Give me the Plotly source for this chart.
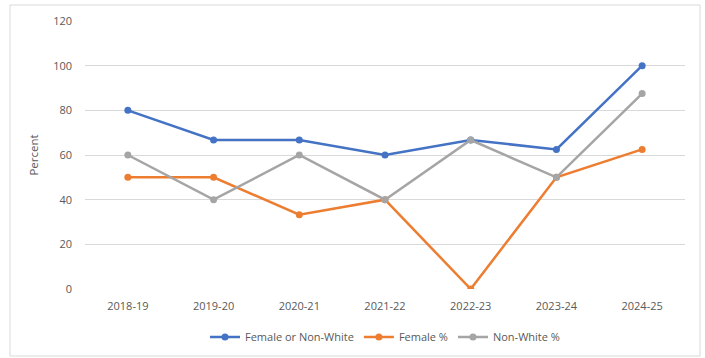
import plotly.graph_objects as go

years = ["2018-19", "2019-20", "2020-21", "2021-22", "2022-23", "2023-24", "2024-25"]
female_or_nonwhite = [80, 66.7, 66.7, 60, 66.7, 62.5, 100]
female_pct = [50, 50, 33.3, 40, 0, 50, 62.5]
nonwhite_pct = [60, 40, 60, 40, 66.7, 50, 87.5]

series = [
    ("Female or Non-White", female_or_nonwhite, "#4472C4"),
    ("Female %", female_pct, "#ED7D31"),
    ("Non-White %", nonwhite_pct, "#A5A5A5"),
]

fig = go.Figure()
for name, vals, col in series:
    fig.add_trace(go.Scatter(
        x=years, y=vals, name=name, mode="lines+markers",
        line=dict(color=col, width=2.5),
        marker=dict(color=col, size=7),
    ))

W, H = 705, 358
L, R, T, B = 85, 20, 21, 69
pw, ph = W - L - R, H - T - B

def px(x):
    return (x - L) / pw

def py(y):
    return (H - B - y) / ph

fig.add_shape(type="rect", xref="paper", yref="paper",
              x0=px(10), x1=px(700), y0=py(356), y1=py(5),
              line=dict(color="#D9D9D9", width=1), layer="below")

fig.update_layout(
    width=W, height=H,
    margin=dict(l=L, r=R, t=T, b=B, autoexpand=False),
    paper_bgcolor="white", plot_bgcolor="white",
    font=dict(family="Open Sans, Liberation Sans, sans-serif", size=11, color="#595959"),
    showlegend=True,
    legend=dict(orientation="h", x=0.5, xanchor="center", y=py(337), yanchor="middle",
                font=dict(size=11, color="#595959"), itemwidth=30, tracegroupgap=0),
    xaxis=dict(range=[-0.5, 6.5], showgrid=False, showline=False, zeroline=False,
               ticks="", ticklabelstandoff=9, automargin=False,
               tickfont=dict(size=11, color="#595959")),
    yaxis=dict(range=[0, 120], dtick=20, showgrid=True, gridcolor="#D9D9D9", gridwidth=1,
               zeroline=False, showline=False, ticks="", ticklabelstandoff=12, automargin=False,
               title=dict(text="Percent", font=dict(size=11.5, color="#595959"), standoff=12),
               tickfont=dict(size=11, color="#595959")),
)

fig.write_html("out.html")
